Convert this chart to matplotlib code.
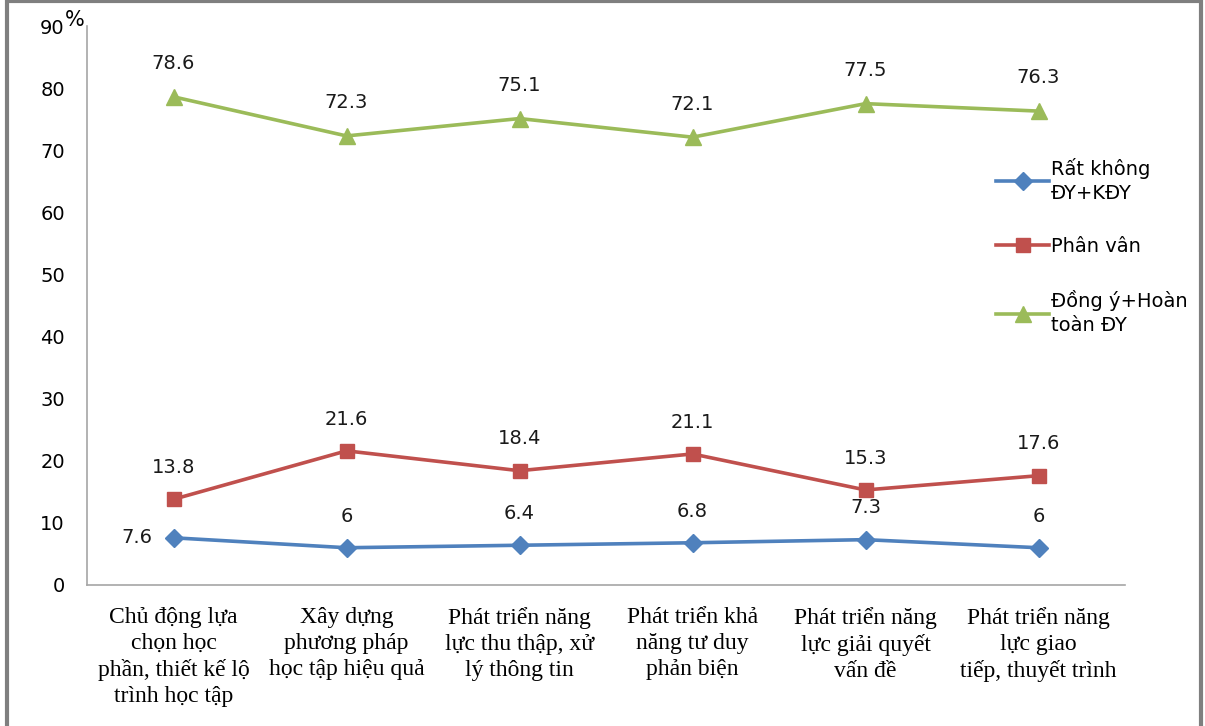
import matplotlib.pyplot as plt
import numpy as np
from matplotlib.patches import Rectangle

# categories and series (values in %)
categories = [
    'Chủ động lựa\nchọn học\nphần, thiết kế lộ\ntrình học tập',
    'Xây dựng\nphương pháp\nhọc tập hiệu quả',
    'Phát triển năng\nlực thu thập, xử\nlý thông tin',
    'Phát triển khả\nnăng tư duy\nphản biện',
    'Phát triển năng\nlực giải quyết\nvấn đề',
    'Phát triển năng\nlực giao\ntiếp, thuyết trình',
]
disagree = [7.6, 6, 6.4, 6.8, 7.3, 6]
neutral = [13.8, 21.6, 18.4, 21.1, 15.3, 17.6]
agree = [78.6, 72.3, 75.1, 72.1, 77.5, 76.3]
series_names = ['Rất không\nĐY+KĐY', 'Phân vân', 'Đồng ý+Hoàn\ntoàn ĐY']
yticks = [0, 10, 20, 30, 40, 50, 60, 70, 80, 90]

fig = plt.figure(figsize=(12.05, 7.26), dpi=100)
ax = fig.add_axes([87/1205, 141/726, (1125-87)/1205, (585-26)/726])

x = np.arange(len(categories))
ax.plot(x, disagree, color='#4F81BD', lw=2.6, marker='D', ms=9, label=series_names[0])
ax.plot(x, neutral, color='#C0504D', lw=2.6, marker='s', ms=10, label=series_names[1])
ax.plot(x, agree, color='#9BBB59', lw=2.6, marker='^', ms=11, label=series_names[2])

lbl = dict(fontsize=14, color='#1a1a1a', family='DejaVu Sans')
for i, v in enumerate(agree):
    ax.annotate(f'{v:g}', (i, v), xytext=(0, 17), textcoords='offset points', ha='center', va='bottom', **lbl)
for i, v in enumerate(neutral):
    ax.annotate(f'{v:g}', (i, v), xytext=(0, 16), textcoords='offset points', ha='center', va='bottom', **lbl)
for i, v in enumerate(disagree):
    if i == 0:
        ax.annotate(f'{v:g}', (i, v), xytext=(-15, 0), textcoords='offset points', ha='right', va='center', **lbl)
    else:
        ax.annotate(f'{v:g}', (i, v), xytext=(0, 16), textcoords='offset points', ha='center', va='bottom', **lbl)

ax.set_xlim(-0.5, len(categories) - 0.5)
ax.set_ylim(0, 90)
ax.set_yticks(yticks)
ax.set_yticklabels([str(t) for t in yticks], fontsize=14, family='DejaVu Sans')
ax.set_xticks(x)
ax.set_xticklabels(categories, fontsize=17, family='Liberation Serif', linespacing=1.3)
ax.tick_params(axis='both', length=0)
ax.tick_params(axis='x', pad=16)
ax.tick_params(axis='y', pad=16)
for s in ['top', 'right']:
    ax.spines[s].set_visible(False)
for s in ['left', 'bottom']:
    ax.spines[s].set_color('#a6a6a6')
    ax.spines[s].set_linewidth(1.2)

fig.text(65/1205, 1 - 20/726, '%', fontsize=15, family='DejaVu Sans', va='center', ha='left')

leg = ax.legend(loc='upper left', bbox_to_anchor=(0.8685, 0.778), frameon=False,
                prop={'family': 'DejaVu Sans', 'size': 14}, handlelength=2.7,
                handletextpad=0.1, labelspacing=1.75, borderaxespad=0)
for t in leg.get_texts():
    t.set_linespacing(1.35)

# outer frame
fig.patches.append(Rectangle((0.006, -0.01), 0.991, 1.008, transform=fig.transFigure,
                             fill=False, edgecolor='#7f7f7f', lw=3))

fig.savefig('out.png', dpi=100)
